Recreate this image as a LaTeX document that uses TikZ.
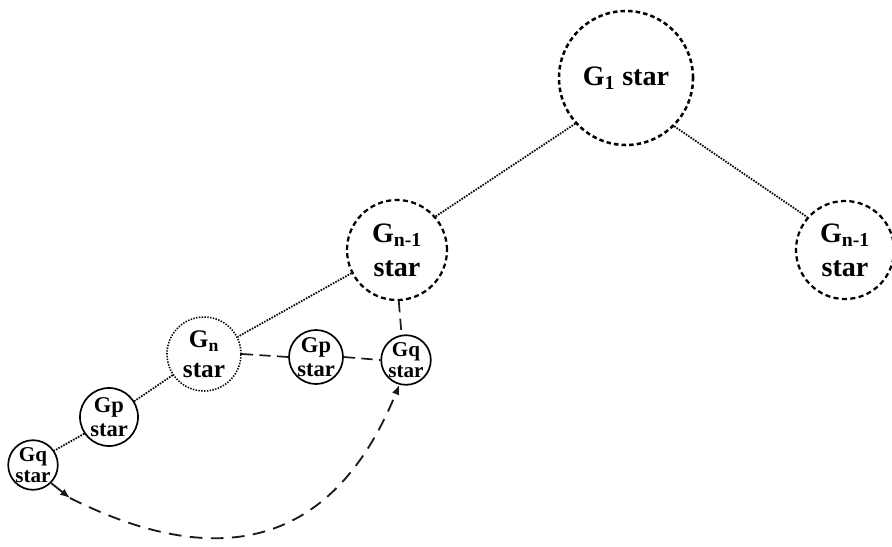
\documentclass[tikz,border=0pt]{standalone}
\usepackage{fontspec}
\setmainfont{Liberation Serif}
\usetikzlibrary{arrows.meta}
\tikzset{
  starnode/.style={circle, inner sep=0pt, align=center, text=black},
  bigdash/.style={starnode, draw=black, line width=1.8pt, dash pattern=on 3.2pt off 2.2pt},
  middash/.style={starnode, draw=black, line width=1.6pt, dash pattern=on 3.6pt off 2.4pt},
  dotcirc/.style={starnode, draw=black, line width=1.1pt, dash pattern=on 1pt off 1pt},
  solidcirc/.style={starnode, draw=black, line width=1.2pt},
  dotline/.style={draw=black, line width=1.25pt, dash pattern=on 1.1pt off 0.9pt},
  dashline/.style={draw=black!90, line width=1.2pt, dash pattern=on 8pt off 4.5pt},
  curveline/.style={draw=black!90, line width=1.3pt},
  tip/.style={-{Latex[length=7pt,width=5.5pt]}},
  fbig/.style={font=\fontsize{20pt}{24pt}\selectfont\bfseries},
  fmid/.style={font=\fontsize{18pt}{21pt}\selectfont\bfseries},
  fsmall/.style={font=\fontsize{16pt}{17pt}\selectfont\bfseries},
  ftiny/.style={font=\fontsize{15pt}{15pt}\selectfont\bfseries}
}
\begin{document}
\begin{tikzpicture}[x=0.025cm,y=-0.025cm]
\useasboundingbox[fill=white] (0,0) rectangle (892,546);
% nodes
\node[bigdash, fbig, minimum size=3.35cm] (g1) at (626,78) {G\textsubscript{1} star};
\node[middash, fbig, minimum size=2.5cm] (gm) at (397,250) {G\textsubscript{n-1}\\star};
\node[middash, fbig, minimum size=2.45cm] (gr) at (845,250) {G\textsubscript{n-1}\\star};
\node[dotcirc, fmid, minimum size=1.85cm] (gn) at (204,354) {G\textsubscript{n}\\star};
\node[solidcirc, fsmall, minimum size=1.33cm] (gp2) at (316,357) {Gp\\star};
\node[solidcirc, ftiny, minimum size=1.23cm] (gq2) at (406,360) {Gq\\star};
\node[solidcirc, fsmall, minimum size=1.45cm] (gp1) at (109,417) {Gp\\star};
\node[solidcirc, ftiny, minimum size=1.2cm] (gq1) at (33,465) {Gq\\star};
% dotted tree links
\draw[dotline] (g1.222) -- (gm.41);
\draw[dotline] (g1.-45) -- (gr.139);
\draw[dotline] (gm.207) -- (gn.27);
\draw[dotline] (gn.214) -- (gp1.32);
\draw[dotline] (gp1.214) -- (gq1.34);
% dashed links
\draw[dashline] (gn.east) -- (gp2.west);
\draw[dashline] (gp2.east) -- (gq2.west);
\draw[dashline] (gm.-88) -- (gq2.100);
% curved arrow
\coordinate (a1) at (70,498);
\draw[curveline, tip] (gq1.-45) -- (a1);
\draw[curveline, tip, dash pattern=on 9pt off 6pt] (a1) .. controls (210,568) and (330,555) .. (gq2.-105);
\end{tikzpicture}
\end{document}
